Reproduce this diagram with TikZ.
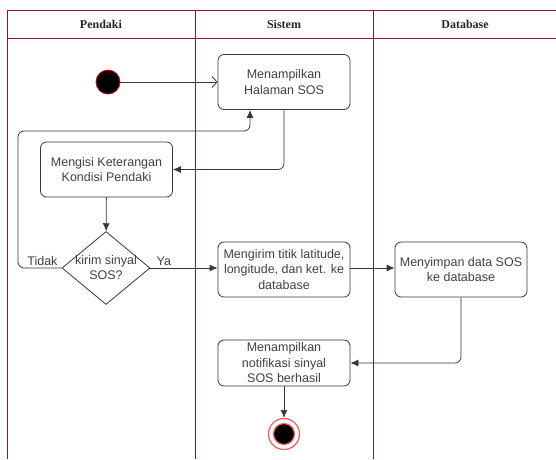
\documentclass[tikz,border=0pt]{standalone}
\usepackage{fontspec}
\setmainfont{Liberation Sans}
\newfontfamily\headfont{Liberation Serif}
\usetikzlibrary{arrows.meta,shapes.geometric,positioning}
\definecolor{lanecol}{RGB}{105,40,40}
\definecolor{boxcol}{RGB}{55,55,55}

\begin{document}
\begin{tikzpicture}[
      x=1pt,y=-1pt,
      lane/.style={draw=lanecol,line width=0.9pt},
      header/.style={font={\headfont\bfseries\fontsize{12}{14}\selectfont},text=black!85},
      action/.style={draw=boxcol,thick,rounded corners=6pt,minimum width=132pt,minimum height=55pt,
        align=center,inner sep=1pt,text=black!75,font={\fontsize{12.5}{15.5}\selectfont}},
      decision/.style={diamond,draw=boxcol,thick,minimum width=88pt,minimum height=73pt,inner sep=0pt},
      startnode/.style={circle,fill=black,draw=red!85!black,thick,minimum size=24pt,inner sep=0pt},
      endnode/.style={circle,draw=red!65,line width=1.2pt,minimum size=31pt,inner sep=0pt,
        path picture={\filldraw[fill=black,draw=red!65] (path picture bounding box.center) circle (10.5pt);}},
      flow/.style={draw=boxcol,thick,-{Latex[length=8pt,width=7pt]}},
      openflow/.style={draw=boxcol,thick,-{Straight Barb[length=5pt,width=11pt]}},
      guard/.style={inner sep=1pt,text=black!75,font={\fontsize{12.5}{15}\selectfont}}
  ]
  \useasboundingbox (0,0) rectangle (556,459);

  \draw[lane] (7,459) -- (7,10) -- (556,10);
  \draw[lane] (7,38) -- (556,38);
  \draw[lane] (195,10) -- (195,459);
  \draw[lane] (373,10) -- (373,459);
  \node[header] (hpendaki) at (101,24) {Pendaki};
  \node[header] (hsistem) at (284,24) {Sistem};
  \node[header] (hdatabase) at (465,24) {Database};

  \node[startnode] (start) at (108,82) {};
  \node[action] (halaman) at (284,82) {Menampilkan\\Halaman SOS};
  \node[action] (mengisi) at (106.5,169.5) {Mengisi Keterangan\\Kondisi Pendaki};
  \node[decision, label={[guard,align=center]center:kirim sinyal\\SOS?}] (kirim) at (106,268) {};
  \node[action] (mengirim) at (284,269.5) {Mengirim titik latitude,\\longitude, dan ket. ke\\database};
  \node[action] (menyimpan) at (461,269.5) {Menyimpan data SOS\\ke database};
  \node[action, minimum height=46pt] (notif) at (284,363) {Menampilkan\\notifikasi sinyal\\SOS berhasil};
  \node[endnode] (end) at (284,434) {};
  \coordinate (loopleft) at (18,131);
  \coordinate (loopright) at (250,131);

  \draw[openflow] (start) -- (halaman);
  \draw[flow,rounded corners=6pt] (halaman.south) |- (mengisi.east);
  \draw[flow] (mengisi) -- (kirim);
  \draw[flow,rounded corners=6pt] (kirim.west) -| node[guard,pos=0.22,above=1pt] {Tidak} (loopleft)
    -- (loopright) -- (loopright |- halaman.south);
  \draw[flow] (kirim.east) -- (mengirim.west |- kirim.east) node[guard,pos=0.2,above=1pt] {Ya};
  \draw[flow] (mengirim.east |- kirim.east) -- (menyimpan.west |- kirim.east);
  \draw[flow,rounded corners=6pt] (menyimpan.south) |- (notif.east);
  \draw[flow] (notif) -- (end);

\end{tikzpicture}
\end{document}
